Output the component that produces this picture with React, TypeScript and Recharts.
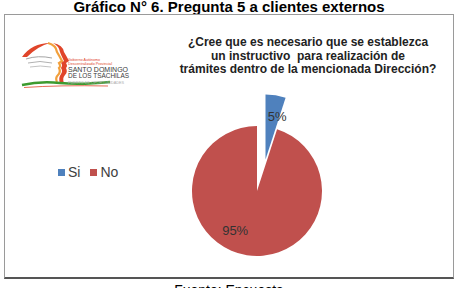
import { Cell, Pie, PieChart } from "recharts";

const categories = ["Si", "No"];
const values = [5, 95];
const colors = ["#4F81BD", "#C0504D"];

const pageTitle = "Gráfico N° 6. Pregunta 5 a clientes externos";
const chartTitle = [
  "¿Cree que es necesario que se establezca",
  "un instructivo  para realización de",
  "trámites dentro de la mencionada Dirección?",
];
const source = "Fuente: Encuesta";

const data = categories.map((name, i) => ({ name, value: values[i] }));

const RADIAN = Math.PI / 180;

// draws the percentage inside one slice only
const sliceLabel = (only: number, dist: number, turn: number) => (p: any) => {
  if (p.index !== only) return null;
  const a = (p.midAngle + turn) * RADIAN;
  const x = p.cx + dist * Math.cos(-a);
  const y = p.cy + dist * Math.sin(-a);
  return (
    <text
      x={x}
      y={y}
      textAnchor="middle"
      dominantBaseline="central"
      fill="#333"
      fontSize={13}
      fontFamily="'Liberation Sans', Arial, sans-serif"
    >
      {`${Math.round(p.percent * 100)}%`}
    </text>
  );
};

// rough drawing of the provincial government logo
const Logo = () => (
  <svg width={122} height={50} style={{ position: "absolute", left: 20, top: 40 }}>
    <path d="M2 17 Q12 3 30 3 Q18 6 7 17 Z" fill="#e0452a" />
    <path d="M28 3 Q36 5 37 12 Q40 17 42 21 L39 23 Q41 26 39 28 Q41 32 38 35 Q35 38 37 42" stroke="#f2a03c" strokeWidth={2.2} fill="none" />
    <path d="M33 3 Q43 5 44 12 Q47 17 49 21 L46 23 Q48 26 46 28 Q48 32 45 35 Q42 38 44 43 L40 43 Q38 38 41 34 Q43 31 41 28 Q43 25 41 23 L44 21 Q41 15 40 12 Q39 6 33 3 Z" fill="#e0452a" />
    <path d="M6 19 Q18 15 32 18" stroke="#9a9a9a" strokeWidth={0.9} fill="none" />
    <path d="M8 23 Q20 20 32 23" stroke="#a8a8a8" strokeWidth={0.9} fill="none" />
    <path d="M10 27 Q20 25 31 27" stroke="#bbb" strokeWidth={0.9} fill="none" />
    <path d="M2 45 Q20 41 40 43 Q60 45 90 42" stroke="#3d9a2f" strokeWidth={2.5} fill="none" />
    <path d="M4 47.5 Q40 45 88 46" stroke="#e0452a" strokeWidth={0.8} fill="none" />
    <g fontFamily="'Liberation Sans', Arial, sans-serif">
      <text x={48} y={20.5} fontSize={3.6} fill="#e0452a">Gobierno Autónomo</text>
      <text x={48} y={24.5} fontSize={3.6} fill="#e0452a" textLength={44} lengthAdjust="spacingAndGlyphs">Descentralizado Provincial</text>
      <text x={48} y={31.7} fontSize={8} fill="#3a3a3a" textLength={60} lengthAdjust="spacingAndGlyphs">SANTO DOMINGO</text>
      <text x={48} y={38.3} fontSize={8} fill="#3a3a3a" textLength={61} lengthAdjust="spacingAndGlyphs">DE LOS TSÁCHILAS</text>
      <text x={48} y={44} fontSize={3} fill="#aaa" textLength={56} lengthAdjust="spacingAndGlyphs">PUERTO DE OPORTUNIDADES</text>
    </g>
  </svg>
);

export default function App() {
  return (
    <div
      style={{
        position: "absolute",
        left: 0,
        top: 0,
        width: 458,
        height: 288,
        background: "#fff",
        overflow: "hidden",
        fontFamily: "'Liberation Sans', Arial, sans-serif",
      }}
    >
      <div
        style={{
          position: "absolute",
          left: 0,
          width: 458,
          top: -2,
          textAlign: "center",
          fontWeight: "bold",
          fontSize: 15,
          color: "#000",
        }}
      >
        {pageTitle}
      </div>

      <div
        style={{
          position: "absolute",
          left: 4,
          top: 14,
          width: 448,
          height: 262,
          borderLeft: "1.5px solid #9a9a9a",
          borderTop: "1.5px solid #9a9a9a",
          borderRight: "1.5px solid #9a9a9a",
          borderBottom: "2px solid #555",
        }}
      />

      <Logo />

      <div
        style={{
          position: "absolute",
          left: 158,
          width: 300,
          top: 36,
          textAlign: "center",
          fontWeight: "bold",
          fontSize: 12,
          lineHeight: "13.5px",
          color: "#222",
        }}
      >
        {chartTitle.map((t) => (
          <div key={t} style={{ whiteSpace: "pre" }}>{t}</div>
        ))}
      </div>

      <div
        style={{
          position: "absolute",
          left: 58,
          top: 164,
          display: "flex",
          alignItems: "center",
          fontSize: 14,
          color: "#404040",
        }}
      >
        {categories.map((c, i) => (
          <span key={c} style={{ display: "flex", alignItems: "center", marginRight: 10 }}>
            <span style={{ width: 7, height: 7, background: colors[i], marginRight: 3 }} />
            {c}
          </span>
        ))}
      </div>

      <div style={{ position: "absolute", left: 0, top: 0 }}>
        <PieChart width={458} height={288}>
          <Pie
            data={data}
            dataKey="value"
            nameKey="name"
            cx={260.5}
            cy={154.5}
            outerRadius={65}
            startAngle={90}
            endAngle={-270}
            stroke="none"
            isAnimationActive={false}
            labelLine={false}
            label={sliceLabel(0, 45, -6)}
          >
            {data.map((d, i) => (
              <Cell key={d.name} fill={i === 0 ? colors[0] : "transparent"} />
            ))}
          </Pie>
          <Pie
            data={data}
            dataKey="value"
            nameKey="name"
            cx={252}
            cy={186}
            outerRadius={65}
            startAngle={90}
            endAngle={-270}
            stroke="none"
            isAnimationActive={false}
            labelLine={false}
            label={sliceLabel(1, 45, -20)}
          >
            {data.map((d, i) => (
              <Cell key={d.name} fill={i === 1 ? colors[1] : "transparent"} />
            ))}
          </Pie>
        </PieChart>
      </div>

      <div
        style={{
          position: "absolute",
          left: 0,
          width: 458,
          top: 282,
          textAlign: "center",
          fontSize: 14,
          color: "#000",
        }}
      >
        {source}
      </div>
    </div>
  );
}
